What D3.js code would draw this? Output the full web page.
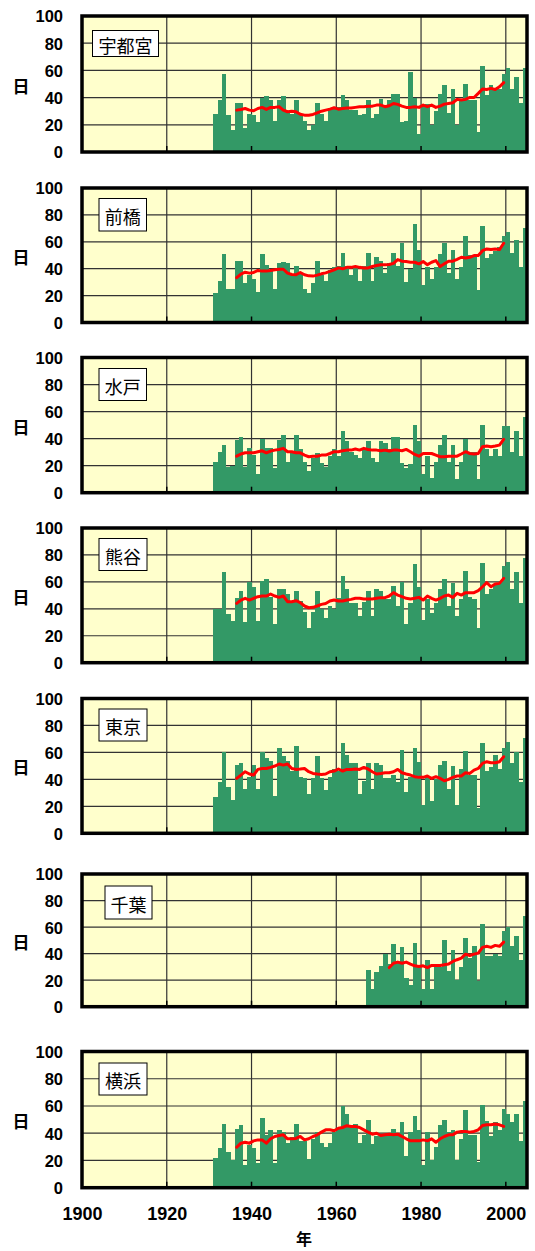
<!DOCTYPE html>
<html>
<head>
<meta charset="utf-8">
<script src="https://cdn.jsdelivr.net/npm/d3@7"></script>
<style>
  body { margin: 0; background: #ffffff; }
  svg { display: block; }
</style>
</head>
<body>
<svg id="chart" width="535" height="1251"></svg>
<script>
// Annual count of days per station, with the 11-year running mean.
const stations = ["宇都宮", "前橋", "水戸", "熊谷", "東京", "千葉", "横浜"];
const firstYear = [1931, 1931, 1931, 1931, 1931, 1967, 1931];
const lastYear = 2004;

const utsunomiyaDays = [
  28, 38, 57, 27, 16, 36, 36, 18, 28, 27,
  22, 40, 41, 38, 23, 38, 41, 29, 28, 38,
  27, 23, 16, 20, 36, 28, 23, 31, 33, 33,
  42, 38, 31, 31, 27, 28, 38, 25, 28, 39,
  33, 38, 43, 43, 22, 23, 59, 40, 13, 33,
  35, 20, 30, 43, 49, 29, 46, 20, 38, 50,
  38, 38, 15, 63, 42, 49, 46, 46, 57, 62,
  46, 55, 36, 62
];
const maebashiDays = [
  22, 31, 51, 25, 25, 46, 46, 29, 35, 32,
  23, 51, 43, 39, 25, 44, 45, 44, 36, 42,
  36, 25, 22, 29, 46, 35, 31, 39, 41, 42,
  52, 42, 35, 41, 31, 42, 52, 31, 49, 46,
  37, 44, 52, 42, 59, 30, 40, 73, 54, 28,
  41, 32, 41, 51, 59, 37, 54, 32, 41, 64,
  50, 50, 24, 72, 48, 51, 53, 56, 64, 67,
  52, 61, 41, 70
];
const mitoDays = [
  23, 30, 35, 19, 20, 39, 41, 19, 33, 28,
  14, 40, 33, 33, 18, 39, 43, 23, 30, 43,
  32, 23, 16, 26, 29, 22, 19, 27, 32, 27,
  46, 38, 30, 28, 26, 33, 38, 26, 23, 38,
  37, 32, 41, 41, 22, 18, 21, 50, 38, 14,
  27, 11, 23, 35, 43, 23, 35, 10, 23, 40,
  30, 30, 10, 50, 32, 27, 32, 27, 49, 49,
  30, 46, 27, 56
];
const kumagayaDays = [
  40, 40, 67, 36, 31, 48, 53, 30, 60, 56,
  31, 61, 62, 49, 29, 55, 55, 51, 45, 53,
  46, 38, 26, 38, 53, 40, 33, 42, 40, 48,
  64, 55, 44, 44, 35, 45, 53, 35, 55, 53,
  47, 47, 57, 42, 60, 29, 44, 73, 56, 32,
  47, 37, 44, 55, 62, 42, 59, 35, 47, 68,
  49, 47, 26, 74, 51, 55, 58, 59, 72, 75,
  55, 67, 44, 78
];
const tokyoDays = [
  27, 38, 60, 34, 25, 51, 52, 33, 42, 51,
  33, 60, 56, 54, 28, 63, 57, 54, 46, 65,
  42, 41, 29, 41, 57, 41, 32, 42, 48, 46,
  67, 58, 52, 52, 29, 39, 52, 33, 52, 51,
  41, 41, 43, 38, 62, 31, 42, 63, 53, 21,
  42, 24, 40, 51, 54, 33, 50, 21, 48, 61,
  43, 43, 19, 67, 46, 49, 58, 48, 63, 68,
  52, 60, 38, 71
];
const chibaDays = [
  28, 13, 26, 31,
  40, 32, 47, 34, 45, 22, 16, 48, 31, 13,
  35, 13, 30, 30, 50, 27, 43, 20, 30, 52,
  37, 46, 19, 62, 38, 38, 40, 38, 57, 60,
  46, 53, 35, 68
];
const yokohamaDays = [
  22, 29, 47, 26, 20, 43, 46, 17, 31, 29,
  18, 51, 39, 42, 18, 42, 41, 33, 37, 47,
  34, 34, 21, 36, 41, 33, 30, 33, 41, 43,
  60, 54, 46, 47, 33, 39, 50, 32, 38, 38,
  39, 39, 43, 39, 48, 23, 41, 53, 42, 17,
  41, 20, 30, 46, 50, 41, 42, 20, 36, 57,
  39, 39, 19, 61, 49, 38, 48, 42, 58, 54,
  48, 54, 34, 64
];

// 11-year running means, centred (first value is firstYear + 5).
const utsunomiyaMean = [
  30.8, 31.3, 32.0, 30.8, 30.3, 32.0, 32.8, 31.3, 32.8, 32.8,
  33.3, 30.8, 29.6, 30.0, 29.6, 27.8, 27.1, 27.1, 27.6, 28.8,
  30.0, 30.8, 31.5, 32.5, 31.5, 32.0, 32.3, 32.3, 32.8, 33.3,
  33.3, 33.7, 33.7, 34.5, 34.5, 33.3, 34.0, 35.7, 35.0, 33.7,
  32.8, 32.8, 33.3, 32.8, 34.5, 33.3, 34.5, 32.8, 33.7, 35.2,
  35.7, 36.2, 38.7, 38.2, 38.7, 40.1, 40.1, 43.1, 46.3, 46.0,
  46.8, 46.0, 48.0, 51.0
];
const maebashiMean = [
  33.3, 36.0, 37.4, 36.7, 37.2, 38.7, 38.2, 38.2, 38.7, 39.2,
  39.6, 39.6, 36.7, 35.7, 35.5, 37.2, 35.5, 34.7, 34.5, 35.2,
  36.2, 36.9, 38.0, 39.2, 40.6, 39.9, 41.0, 41.0, 41.6, 41.0,
  40.6, 40.6, 41.6, 42.4, 42.9, 42.9, 43.1, 44.0, 46.8, 45.6,
  45.3, 44.8, 44.8, 43.6, 45.3, 43.0, 44.8, 46.0, 41.6, 43.6,
  45.6, 45.6, 47.0, 48.5, 48.0, 48.5, 49.8, 49.8, 53.4, 54.7,
  54.2, 54.7, 54.2, 58.9
];
const mitoMean = [
  27.0, 28.6, 29.5, 29.5, 29.5, 30.3, 31.0, 29.5, 30.8, 31.5,
  32.0, 32.8, 30.3, 30.3, 29.5, 29.5, 27.8, 26.6, 27.0, 27.0,
  27.8, 27.8, 29.0, 30.3, 30.3, 31.0, 31.5, 31.5, 32.3, 31.5,
  32.8, 32.0, 31.5, 31.5, 31.0, 31.5, 30.8, 31.5, 31.5, 31.0,
  32.0, 30.3, 28.3, 27.0, 29.0, 29.0, 29.0, 27.8, 26.6, 26.6,
  27.0, 27.0, 27.0, 28.6, 30.3, 29.0, 28.6, 29.0, 34.0, 34.5,
  34.0, 34.5, 35.2, 39.4
];
const kumagayaMean = [
  44.0, 46.5, 47.8, 46.5, 47.8, 49.0, 49.5, 49.5, 51.0, 49.5,
  48.5, 49.5, 45.3, 45.3, 46.0, 44.6, 42.1, 40.8, 41.1, 42.1,
  43.3, 44.0, 45.8, 46.5, 45.8, 45.8, 46.5, 47.0, 47.8, 47.8,
  47.3, 47.3, 47.3, 47.8, 48.3, 48.3, 49.5, 52.0, 50.2, 49.0,
  47.8, 47.3, 47.8, 48.5, 46.5, 49.5, 47.8, 46.5, 47.8, 49.5,
  50.2, 48.5, 51.5, 50.2, 52.0, 52.0, 52.0, 53.5, 56.4, 59.4,
  56.4, 58.4, 58.9, 62.6
];
const tokyoMean = [
  40.7, 43.2, 45.7, 44.0, 43.2, 47.4, 48.1, 48.1, 48.9, 49.9,
  51.4, 50.6, 51.4, 48.1, 47.4, 47.7, 48.1, 45.7, 44.4, 44.0,
  43.7, 44.0, 45.7, 46.2, 47.7, 46.2, 47.4, 47.4, 47.7, 47.4,
  48.9, 47.7, 45.7, 44.0, 44.4, 44.9, 44.9, 45.7, 47.4, 44.9,
  44.0, 43.2, 42.0, 41.5, 41.5, 42.5, 40.7, 42.0, 40.7, 39.0,
  40.0, 41.5, 42.5, 42.5, 44.9, 44.4, 46.9, 48.1, 51.9, 53.1,
  52.3, 52.3, 53.1, 56.8
];
const chibaMean = [
  29.5, 32.8, 33.6, 32.8, 33.6, 32.1, 30.8, 30.3, 30.8, 29.5,
  31.1, 31.1, 31.1, 31.6, 32.1, 34.1, 35.4, 36.6, 39.6, 38.6,
  39.6, 40.4, 44.7, 45.5, 44.7, 46.2, 45.5, 48.7
];
const yokohamaMean = [
  29.7, 32.7, 33.4, 32.7, 34.4, 35.1, 35.1, 32.7, 35.9, 37.6,
  38.3, 38.8, 35.9, 35.9, 36.2, 37.6, 35.1, 35.9, 37.6, 38.8,
  40.8, 42.5, 42.5, 41.8, 43.7, 44.2, 45.5, 45.0, 45.0, 44.2,
  42.5, 40.8, 39.3, 40.0, 38.3, 38.8, 39.3, 38.8, 39.3, 37.6,
  35.9, 34.4, 34.4, 34.4, 35.1, 34.4, 35.9, 33.4, 35.9, 37.6,
  38.8, 38.8, 40.8, 41.3, 41.3, 40.8, 41.3, 42.5, 45.7, 46.2,
  46.2, 46.7, 46.2, 45.0
];

const dailyCounts = [utsunomiyaDays, maebashiDays, mitoDays, kumagayaDays, tokyoDays, chibaDays, yokohamaDays];
const runningMeans = [utsunomiyaMean, maebashiMean, mitoMean, kumagayaMean, tokyoMean, chibaMean, yokohamaMean];

const xTickYears = [1900, 1920, 1940, 1960, 1980, 2000];
const yTickValues = [0, 20, 40, 60, 80, 100];
const yUnitLabel = "日";
const xUnitLabel = "年";

// ---- layout ----
const plotLeft = 82, plotRight = 527;
const panelTops =    [16, 188, 357.5, 528, 698.5, 874, 1051.5];
const panelBottoms = [152, 322.5, 492.7, 662.7, 833.3, 1006.7, 1187.7];
// name box: left, offset from panel top, width, height
const nameBoxes = [
  [92.5, 14.5, 66, 26],
  [99, 10.5, 47.5, 32.5],
  [99, 11, 47.5, 32],
  [99, 10.5, 48, 32],
  [99, 10.5, 48, 32],
  [105, 12, 47, 33],
  [99, 11.5, 48, 32]
];

const colors = {
  plotBg: "#FFFFCC",
  bar: "#339966",
  mean: "#FF0000",
  grid: "#333333",
  frame: "#000000"
};

const latin = "'Liberation Sans', Arial, sans-serif";
const cjk = "'Noto Sans CJK JP', sans-serif";

const svg = d3.select("#chart");
const x = d3.scaleLinear().domain([1900, 2005]).range([plotLeft, plotRight]);

stations.forEach((name, p) => {
  const top = panelTops[p], bottom = panelBottoms[p];
  const y = d3.scaleLinear().domain([0, 100]).range([bottom, top]);
  const g = svg.append("g").attr("class", "panel");

  const counts = dailyCounts[p].map((v, i) => ({ year: firstYear[p] + i, value: v }));
  const means = runningMeans[p].map((v, i) => ({ year: firstYear[p] + 5 + i, value: v }));

  // plot background
  g.append("rect")
    .attr("x", plotLeft).attr("y", top)
    .attr("width", plotRight - plotLeft).attr("height", bottom - top)
    .attr("fill", colors.plotBg);

  // grid lines
  g.append("g").selectAll("line.h").data(yTickValues.filter(v => v > 0 && v < 100))
    .join("line")
    .attr("x1", plotLeft).attr("x2", plotRight)
    .attr("y1", d => y(d)).attr("y2", d => y(d))
    .attr("stroke", colors.grid).attr("stroke-width", 1.2);
  g.append("g").selectAll("line.v").data(xTickYears.filter(v => v > 1900))
    .join("line")
    .attr("x1", d => x(d)).attr("x2", d => x(d))
    .attr("y1", top).attr("y2", bottom)
    .attr("stroke", colors.grid).attr("stroke-width", 1.2);

  // annual bars
  g.append("g").selectAll("rect").data(counts)
    .join("rect")
    .attr("x", d => x(d.year))
    .attr("width", d => x(d.year + 1) - x(d.year) + 0.4)
    .attr("y", d => y(d.value))
    .attr("height", d => y(0) - y(d.value))
    .attr("fill", colors.bar)
    .attr("shape-rendering", "crispEdges");

  // inward ticks on the year axis
  g.append("g").selectAll("line").data(xTickYears.filter(v => v > 1900))
    .join("line")
    .attr("x1", d => x(d)).attr("x2", d => x(d))
    .attr("y1", bottom).attr("y2", bottom - 6)
    .attr("stroke", "#000").attr("stroke-width", 1.5);

  // running mean
  g.append("path").datum(means)
    .attr("fill", "none")
    .attr("stroke", colors.mean)
    .attr("stroke-width", 3)
    .attr("stroke-linejoin", "round")
    .attr("stroke-linecap", "round")
    .attr("d", d3.line().x(d => x(d.year + 0.5)).y(d => y(d.value)));

  // frame
  g.append("rect")
    .attr("x", plotLeft).attr("y", top)
    .attr("width", plotRight - plotLeft).attr("height", bottom - top)
    .attr("fill", "none").attr("stroke", colors.frame).attr("stroke-width", 3.5);

  // value axis
  const yAxis = d3.axisLeft(y).tickValues(yTickValues).tickSize(0).tickPadding(19);
  const ya = g.append("g").attr("transform", `translate(${plotLeft},0)`).call(yAxis);
  ya.select(".domain").remove();
  ya.selectAll("text")
    .attr("font-family", latin).attr("font-weight", "bold")
    .attr("font-size", 16.5).attr("fill", "#000")
    .attr("dy", "0.36em");

  // unit label
  g.append("text")
    .attr("x", 21).attr("y", (top + bottom) / 2 + 1)
    .attr("text-anchor", "middle").attr("dominant-baseline", "central")
    .attr("font-family", cjk).attr("font-weight", "bold").attr("font-size", 17)
    .text(yUnitLabel);

  // station name box
  const [bx, by, bw, bh] = nameBoxes[p];
  g.append("rect")
    .attr("x", bx).attr("y", top + by).attr("width", bw).attr("height", bh)
    .attr("fill", "#fff").attr("stroke", "#000").attr("stroke-width", 1);
  g.append("text")
    .attr("x", bx + bw / 2).attr("y", top + by + bh / 2 + 1)
    .attr("text-anchor", "middle").attr("dominant-baseline", "central")
    .attr("font-family", cjk).attr("font-size", 18).attr("fill", "#000")
    .text(name);

  // year axis under the last panel
  if (p === stations.length - 1) {
    const xAxis = d3.axisBottom(x).tickValues(xTickYears).tickFormat(d3.format("d"))
      .tickSize(0).tickPadding(20);
    const xa = g.append("g").attr("transform", `translate(0,${bottom})`).call(xAxis);
    xa.select(".domain").remove();
    xa.selectAll("text")
      .attr("font-family", latin).attr("font-weight", "bold")
      .attr("font-size", 18).attr("fill", "#000");
    g.append("text")
      .attr("x", 304).attr("y", 1238)
      .attr("text-anchor", "middle").attr("dominant-baseline", "central")
      .attr("font-family", cjk).attr("font-weight", "bold").attr("font-size", 16)
      .text(xUnitLabel);
  }
});
</script>
</body>
</html>
